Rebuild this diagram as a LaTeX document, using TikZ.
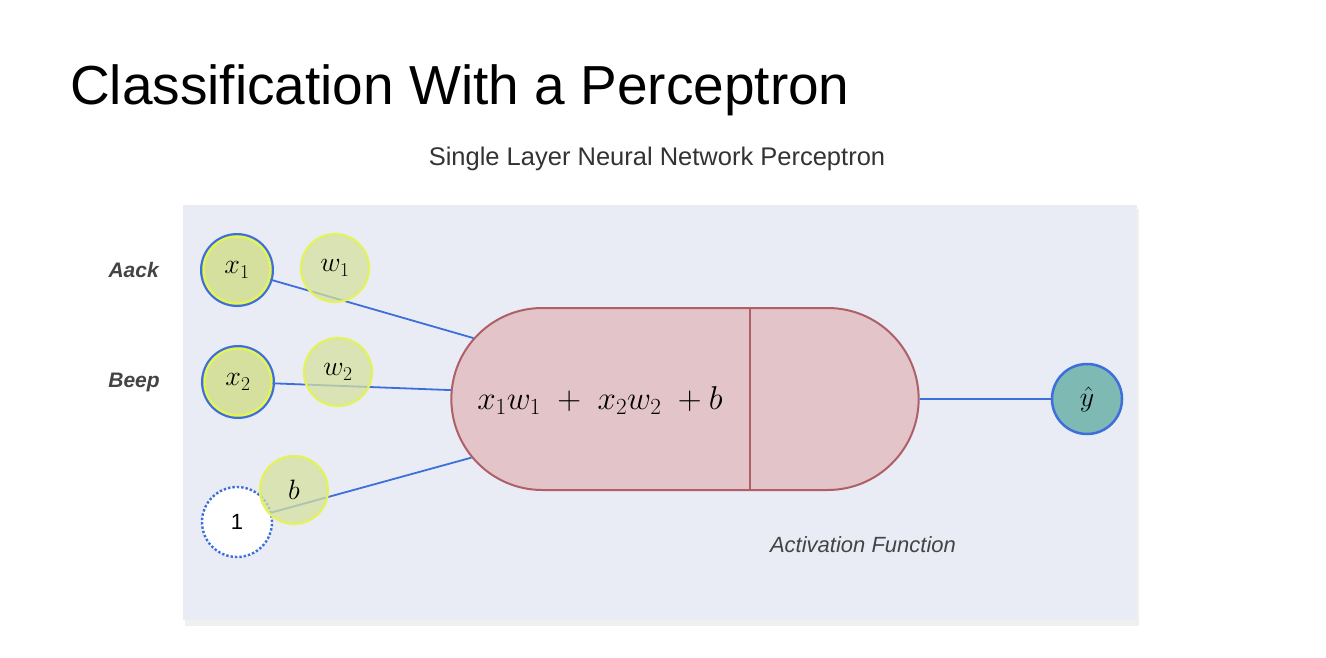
\RequirePackage{fix-cm}
\documentclass[tikz,border=0pt]{standalone}
\usepackage{fontspec}
\setmainfont{Liberation Sans}
\usetikzlibrary{positioning}
\usetikzlibrary{shapes.misc}
\definecolor{panelbg}{HTML}{E9ECF4}
\definecolor{linkblue}{HTML}{3D6FDC}
\definecolor{ringyel}{HTML}{E4F25C}
\definecolor{nodegrn}{HTML}{D5E09E}
\definecolor{pillfill}{HTML}{E3C4C9}
\definecolor{pilledge}{HTML}{AF5F68}
\definecolor{outteal}{HTML}{7FB9B4}
\definecolor{txtgray}{HTML}{444444}
\begin{document}
\begin{tikzpicture}[x=1pt,y=-1pt]
	\tikzset{
	  innode/.style={circle,minimum size=67pt,inner sep=0pt,fill=nodegrn,
		preaction={draw=linkblue,line width=7pt},
		draw=ringyel,line width=2.5pt,font=\fontsize{28}{28}\selectfont},
	  wnode/.style={circle,minimum size=68pt,inner sep=0pt,fill=nodegrn,fill opacity=0.75,
		text opacity=1,draw=ringyel,line width=2.2pt,font=\fontsize{28}{28}\selectfont},
	  lbl/.style={font=\fontsize{21}{21}\selectfont\bfseries\itshape,text=txtgray},
	  link/.style={draw=linkblue,line width=1.8pt},
	}
	\useasboundingbox (0,0) rectangle (1326,658);
	\fill[white] (0,0) rectangle (1326,658);
	%PANEL
	\fill[black!6] (185,209) rectangle (1139,626);
	\fill[panelbg] (183,205) rectangle (1137,620);
	%TITLES
	\node[anchor=base west,inner sep=0pt,font=\fontsize{55}{55}\selectfont] (title) at (70,105) {Classification With a Perceptron};
	\node[anchor=base,inner sep=0pt,text=black!80,font=\fontsize{25.5}{25.5}\selectfont] (sub) at (657,166) {Single Layer Neural Network Perceptron};
	%NODES
	\node[rounded rectangle,minimum width=474pt,minimum height=182pt,fill=pillfill,
	  draw=pilledge,line width=2pt] (sum) at (685,399) {};
	\node[font=\fontsize{33}{33}\selectfont] (eq) at (600,401) {$x_1w_1\ +\ x_2w_2\ + b$};
	\coordinate (divtop) at (750,308);
	\coordinate (divbot) at (750,490);
	\draw[draw=pilledge,line width=2pt] (divtop) -- (divbot);
	\node[innode] (x1) at (237,270) {$x_1$};
	\node[innode] (x2) at (238,382) {$x_2$};
	\node[circle,minimum size=70pt,inner sep=0pt,fill=white,draw=linkblue,line width=2.4pt,
	  dotted,font=\fontsize{22}{22}\selectfont] (one) at (237,522) {1};
	\node[circle,minimum size=70pt,inner sep=0pt,fill=outteal,draw=linkblue,line width=2.5pt,
	  font=\fontsize{28}{28}\selectfont] (yhat) at (1087,399) {$\hat{y}$};
	\node[lbl,left=40pt of x1] (aack) {Aack};
	\node[lbl,left=40pt of x2] (beep) {Beep};
	%LINKS
	\foreach \a in {x1,x2,one} {
		\draw[link] (\a) -- (sum) ;
	  }
	\draw[link] (sum) -- (yhat);
	%WEIGHTS
	\node[wnode] (w1) at (335,268) {$w_1$};
	\node[wnode] (w2) at (338,372) {$w_2$};
	\node[wnode] (b) at (294,490) {$b$};
	\node[font=\fontsize{22}{22}\selectfont\itshape,text=txtgray] (act) at (863,545) {Activation Function};
\end{tikzpicture}
\end{document}
